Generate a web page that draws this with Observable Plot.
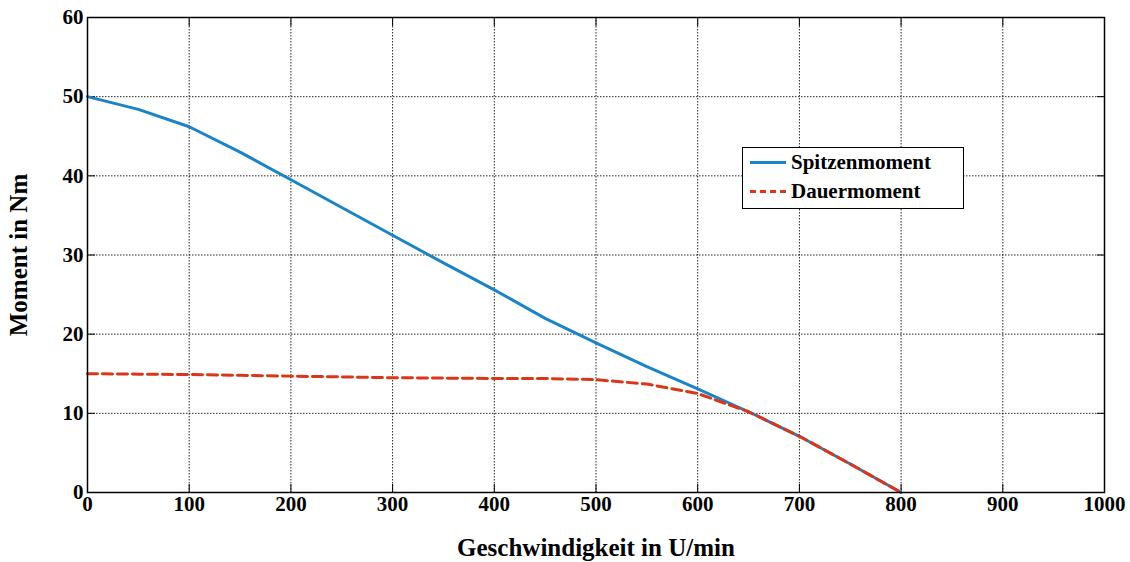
<!DOCTYPE html>
<html>
<head>
<meta charset="utf-8">
<script src="https://cdn.jsdelivr.net/npm/d3@7"></script>
<script src="https://cdn.jsdelivr.net/npm/@observablehq/plot@0.6"></script>
<style>
  html, body { margin: 0; padding: 0; background: #fff; }
  #wrap { position: relative; width: 1130px; height: 562px; font-family: "Liberation Serif", "Times New Roman", serif; }
  #legend { position: absolute; left: 742px; top: 147px; width: 222px; height: 62px; border: 1.3px solid #000; background: #fff; font-weight: bold; font-size: 21px; box-sizing: border-box; }
  .row { position: absolute; left: 7px; display: flex; align-items: center; }
  .sw { width: 36px; height: 0; margin-right: 5px; }
</style>
</head>
<body>
<div id="wrap"></div>
<script>
const speeds = [0, 50, 100, 150, 200, 250, 300, 350, 400, 450, 500, 550, 600, 650, 700, 750, 800];
const spitzenmoment = [50, 48.4, 46.2, 43, 39.5, 36, 32.5, 29, 25.6, 22, 18.9, 15.9, 13.1, 10.2, 7.1, 3.6, 0];
const dauermoment = [15, 14.95, 14.9, 14.8, 14.7, 14.6, 14.5, 14.45, 14.4, 14.4, 14.25, 13.7, 12.5, 10.2, 7.1, 3.6, 0];
const seriesNames = ["Spitzenmoment", "Dauermoment"];
const seriesColors = ["#1c84c6", "#d9361a"];
const xTicks = [0, 100, 200, 300, 400, 500, 600, 700, 800, 900, 1000];
const yTicks = [0, 10, 20, 30, 40, 50, 60];
const xLabel = "Geschwindigkeit in U/min";
const yLabel = "Moment in Nm";

const rowsA = speeds.map((s, i) => ({speed: s, value: spitzenmoment[i]}));
const rowsB = speeds.map((s, i) => ({speed: s, value: dauermoment[i]}));

const font = "Liberation Serif, Times New Roman, serif";
const chart = Plot.plot({
  width: 1130,
  height: 562,
  marginLeft: 87,
  marginRight: 26,
  marginTop: 17,
  marginBottom: 70,
  style: {fontFamily: font, fontSize: "21px", fontWeight: "bold", color: "#000", background: "#fff"},
  x: {type: "linear", domain: [0, 1000]},
  y: {type: "linear", domain: [0, 60]},
  marks: [
    Plot.gridX(xTicks, {stroke: "#000", strokeOpacity: 0.85, strokeDasharray: "1.5,1.5", strokeWidth: 1}),
    Plot.gridY(yTicks, {stroke: "#000", strokeOpacity: 0.85, strokeDasharray: "1.5,1.5", strokeWidth: 1}),
    Plot.axisX(xTicks, {anchor: "bottom", tickSize: 0, tickPadding: 4, label: null, tickFormat: "d", fontSize: 21}),
    Plot.axisY(yTicks, {anchor: "left", tickSize: 0, tickPadding: 4, label: null, tickFormat: "d", fontSize: 21}),
    Plot.axisX(xTicks, {anchor: "bottom", tickSize: -8, text: null, label: null, stroke: "#000"}),
    Plot.axisX(xTicks, {anchor: "top", tickSize: -8, text: null, label: null, stroke: "#000"}),
    Plot.axisY(yTicks, {anchor: "left", tickSize: -8, text: null, label: null, stroke: "#000"}),
    Plot.axisY(yTicks, {anchor: "right", tickSize: -8, text: null, label: null, stroke: "#000"}),
    Plot.line(rowsA, {x: "speed", y: "value", stroke: seriesColors[0], strokeWidth: 3}),
    Plot.line(rowsB, {x: "speed", y: "value", stroke: seriesColors[1], strokeWidth: 3, strokeDasharray: "10,5"}),
    Plot.frame({stroke: "#000", strokeWidth: 1.5})
  ]
});
const wrap = document.getElementById("wrap");
wrap.appendChild(chart);

// axis labels
const svg = d3.select(chart);
svg.append("text").attr("x", 596).attr("y", 556).attr("text-anchor", "middle")
  .attr("font-family", font).attr("font-weight", "bold").attr("font-size", 25).text(xLabel);
svg.append("text").attr("transform", "translate(27,255) rotate(-90)").attr("text-anchor", "middle")
  .attr("font-family", font).attr("font-weight", "bold").attr("font-size", 25).text(yLabel);

// legend
const leg = document.createElement("div");
leg.id = "legend";
seriesNames.forEach((n, i) => {
  const r = document.createElement("div");
  r.className = "row";
  r.style.top = (i === 0 ? 2 : 31) + "px";
  const sw = document.createElement("div");
  sw.className = "sw";
  sw.style.borderTop = "3px " + (i === 0 ? "solid " : "dashed ") + seriesColors[i];
  const t = document.createElement("span");
  t.textContent = n;
  r.appendChild(sw); r.appendChild(t);
  leg.appendChild(r);
});
wrap.appendChild(leg);
</script>
</body>
</html>
